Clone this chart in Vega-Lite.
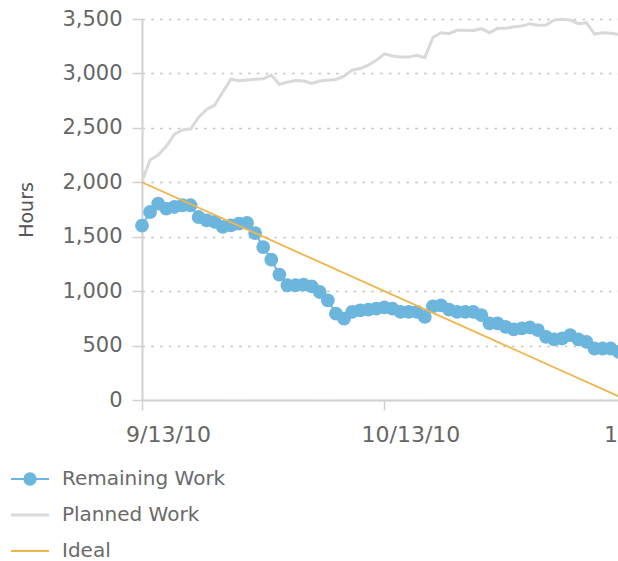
{
  "$schema": "https://vega.github.io/schema/vega-lite/v6.json",
  "width": 501,
  "height": 381,
  "autosize": {"type": "none"},
  "padding": {"left": 142, "top": 19, "right": -25, "bottom": 161},
  "background": "white",
  "config": {"font": "DejaVu Sans", "view": {"stroke": null}},
  "data": {"values": [
    {"date": "2010-09-13", "Remaining Work": 1601, "Planned Work": 2010, "Ideal": 2000},
    {"date": "2010-09-14", "Remaining Work": 1727, "Planned Work": 2205},
    {"date": "2010-09-15", "Remaining Work": 1804, "Planned Work": 2250},
    {"date": "2010-09-16", "Remaining Work": 1758, "Planned Work": 2330},
    {"date": "2010-09-17", "Remaining Work": 1773, "Planned Work": 2440},
    {"date": "2010-09-18", "Remaining Work": 1789, "Planned Work": 2480},
    {"date": "2010-09-19", "Remaining Work": 1789, "Planned Work": 2489},
    {"date": "2010-09-20", "Remaining Work": 1681, "Planned Work": 2596},
    {"date": "2010-09-21", "Remaining Work": 1651, "Planned Work": 2670},
    {"date": "2010-09-22", "Remaining Work": 1636, "Planned Work": 2710},
    {"date": "2010-09-23", "Remaining Work": 1590, "Planned Work": 2830},
    {"date": "2010-09-24", "Remaining Work": 1605, "Planned Work": 2947},
    {"date": "2010-09-25", "Remaining Work": 1620, "Planned Work": 2932},
    {"date": "2010-09-26", "Remaining Work": 1626, "Planned Work": 2940},
    {"date": "2010-09-27", "Remaining Work": 1533, "Planned Work": 2947},
    {"date": "2010-09-28", "Remaining Work": 1405, "Planned Work": 2950},
    {"date": "2010-09-29", "Remaining Work": 1289, "Planned Work": 2985},
    {"date": "2010-09-30", "Remaining Work": 1152, "Planned Work": 2901},
    {"date": "2010-10-01", "Remaining Work": 1054, "Planned Work": 2920},
    {"date": "2010-10-02", "Remaining Work": 1054, "Planned Work": 2935},
    {"date": "2010-10-03", "Remaining Work": 1060, "Planned Work": 2930},
    {"date": "2010-10-04", "Remaining Work": 1044, "Planned Work": 2907},
    {"date": "2010-10-05", "Remaining Work": 992, "Planned Work": 2930},
    {"date": "2010-10-06", "Remaining Work": 916, "Planned Work": 2938},
    {"date": "2010-10-07", "Remaining Work": 794, "Planned Work": 2945},
    {"date": "2010-10-08", "Remaining Work": 748, "Planned Work": 2975},
    {"date": "2010-10-09", "Remaining Work": 809, "Planned Work": 3030},
    {"date": "2010-10-10", "Remaining Work": 824, "Planned Work": 3045},
    {"date": "2010-10-11", "Remaining Work": 831, "Planned Work": 3075},
    {"date": "2010-10-12", "Remaining Work": 840, "Planned Work": 3120},
    {"date": "2010-10-13", "Remaining Work": 850, "Planned Work": 3180},
    {"date": "2010-10-14", "Remaining Work": 840, "Planned Work": 3160},
    {"date": "2010-10-15", "Remaining Work": 809, "Planned Work": 3150},
    {"date": "2010-10-16", "Remaining Work": 809, "Planned Work": 3150},
    {"date": "2010-10-17", "Remaining Work": 809, "Planned Work": 3167},
    {"date": "2010-10-18", "Remaining Work": 763, "Planned Work": 3145},
    {"date": "2010-10-19", "Remaining Work": 861, "Planned Work": 3330},
    {"date": "2010-10-20", "Remaining Work": 870, "Planned Work": 3374},
    {"date": "2010-10-21", "Remaining Work": 831, "Planned Work": 3365},
    {"date": "2010-10-22", "Remaining Work": 809, "Planned Work": 3396},
    {"date": "2010-10-23", "Remaining Work": 809, "Planned Work": 3396},
    {"date": "2010-10-24", "Remaining Work": 809, "Planned Work": 3395},
    {"date": "2010-10-25", "Remaining Work": 779, "Planned Work": 3411},
    {"date": "2010-10-26", "Remaining Work": 703, "Planned Work": 3374},
    {"date": "2010-10-27", "Remaining Work": 703, "Planned Work": 3414},
    {"date": "2010-10-28", "Remaining Work": 672, "Planned Work": 3414},
    {"date": "2010-10-29", "Remaining Work": 648, "Planned Work": 3429},
    {"date": "2010-10-30", "Remaining Work": 657, "Planned Work": 3435},
    {"date": "2010-10-31", "Remaining Work": 666, "Planned Work": 3457},
    {"date": "2010-11-01", "Remaining Work": 641, "Planned Work": 3442},
    {"date": "2010-11-02", "Remaining Work": 580, "Planned Work": 3445},
    {"date": "2010-11-03", "Remaining Work": 556, "Planned Work": 3490},
    {"date": "2010-11-04", "Remaining Work": 565, "Planned Work": 3497},
    {"date": "2010-11-05", "Remaining Work": 595, "Planned Work": 3490},
    {"date": "2010-11-06", "Remaining Work": 556, "Planned Work": 3457},
    {"date": "2010-11-07", "Remaining Work": 534, "Planned Work": 3466},
    {"date": "2010-11-08", "Remaining Work": 473, "Planned Work": 3362},
    {"date": "2010-11-09", "Remaining Work": 473, "Planned Work": 3374},
    {"date": "2010-11-10", "Remaining Work": 473, "Planned Work": 3370},
    {"date": "2010-11-11", "Remaining Work": 443, "Planned Work": 3359},
    {"date": "2010-11-12", "Ideal": 0}
  ]},
  "transform": [
    {"fold": ["Remaining Work", "Planned Work", "Ideal"], "as": ["series", "hours"]},
    {"filter": "isValid(datum.hours)"}
  ],
  "encoding": {
    "x": {
      "field": "date", "type": "temporal",
      "scale": {"type": "utc", "domain": [
        {"year": 2010, "month": "sep", "date": 13, "utc": true},
        {"year": 2010, "month": "nov", "date": 14, "utc": true}
      ]},
      "axis": {
        "values": [
          {"year": 2010, "month": "sep", "date": 13, "utc": true},
          {"year": 2010, "month": "oct", "date": 13, "utc": true},
          {"year": 2010, "month": "nov", "date": 12, "utc": true}
        ],
        "format": "%-m/%-d/%y",
        "title": null, "grid": false,
        "domainColor": "#d0d0d0", "domainWidth": 2,
        "tickColor": "#d0d0d0", "tickSize": 10, "tickWidth": 1.5,
        "labelFontSize": 22, "labelColor": "#666666", "labelPadding": 14,
        "labelOffset": 26, "labelFlush": false, "labelOverlap": false
      }
    },
    "y": {
      "field": "hours", "type": "quantitative",
      "scale": {"domain": [0, 3500], "nice": false},
      "axis": {
        "values": [0, 500, 1000, 1500, 2000, 2500, 3000, 3500],
        "format": ",d",
        "title": "Hours",
        "grid": true, "gridDash": [2.5, 6.3], "gridColor": "#c4c4c4", "gridWidth": 1.5,
        "domainColor": "#d0d0d0", "domainWidth": 2,
        "tickColor": "#d0d0d0", "tickSize": 10, "tickWidth": 1.5,
        "labelFontSize": 21, "labelColor": "#666666", "labelPadding": 10,
        "titleFontSize": 19, "titleFontWeight": "normal", "titleColor": "#555555", "titlePadding": 25
      }
    },
    "color": {
      "field": "series", "type": "nominal",
      "scale": {"domain": ["Remaining Work", "Planned Work", "Ideal"], "range": ["#6cb6dd", "#d9d9d9", "#f0b44a"]},
      "legend": {
        "title": null, "orient": "none", "legendX": -122, "legendY": 450,
        "padding": 0, "rowPadding": 16, "symbolType": "stroke", "symbolSize": 1444,
        "symbolStrokeWidth": 2, "labelFontSize": 20, "labelColor": "#6a6a6a", "labelOffset": 22,
        "labelLimit": 400,
        "encode": {"symbols": {"update": {
          "shape": {"signal": "datum.value === 'Remaining Work' ? 'M-1,0H1M-0.3,0A0.3,0.3,0,1,1,0.3,0A0.3,0.3,0,1,1,-0.3,0Z' : 'stroke'"},
          "fill": {"signal": "datum.value === 'Remaining Work' ? '#6cb6dd' : 'transparent'"},
          "stroke": {"signal": "datum.value === 'Remaining Work' ? '#6cb6dd' : datum.value === 'Planned Work' ? '#d9d9d9' : '#f0b44a'"},
          "strokeWidth": {"signal": "datum.value === 'Planned Work' ? 3 : 2"},
          "opacity": {"value": 1}
        }}}
      }
    }
  },
  "layer": [
    {"transform": [{"filter": "datum.series === 'Planned Work'"}], "mark": {"type": "line", "strokeWidth": 3}},
    {"transform": [{"filter": "datum.series === 'Remaining Work'"}], "mark": {"type": "line", "strokeWidth": 2, "point": {"filled": true, "size": 190, "opacity": 1}}},
    {"transform": [{"filter": "datum.series === 'Ideal'"}], "mark": {"type": "line", "strokeWidth": 1.8}}
  ]
}
